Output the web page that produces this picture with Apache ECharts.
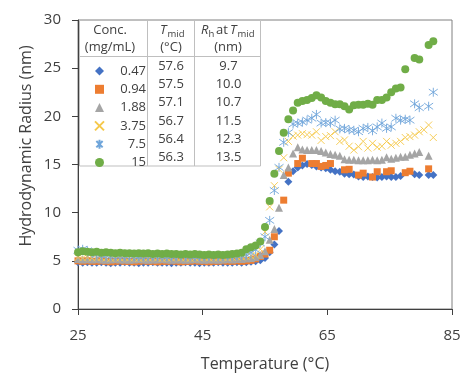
<!DOCTYPE html>
<html><head><meta charset="utf-8">
<script src="https://cdn.jsdelivr.net/npm/echarts@6/dist/echarts.min.js"></script>
<style>html,body{margin:0;padding:0;background:#fff}#c{width:475px;height:387px}</style>
</head><body><div id="c"></div>
<script>
const temps = [25,25.75,26.5,27.25,28,28.75,29.5,30.25,31,31.75,
32.5,33.25,34,34.75,35.5,36.25,37,37.75,38.5,39.25,
40,40.75,41.5,42.25,43,43.75,44.5,45.25,46,46.75,
47.5,48.25,49,49.75,50.5,51.25,52,52.75,53.5,54.25,
55,55.75,56.5,57.25,58,58.75,59.5,60.25,61,61.75,
62.5,63.25,64,64.75,65.5,66.25,67,67.75,68.5,69.25,
70,70.75,71.5,72.25,73,73.75,74.5,75.25,76,76.75,
77.5,78.25,79,79.75,80.5,81.25,82];

const conc = ['0.47','0.94','1.88','3.75','7.5','15'];
const tmid = ['57.6','57.5','57.1','56.7','56.4','56.3'];
const rhAtTmid = ['9.7','10.0','10.7','11.5','12.3','13.5'];
const xTicks = [25,45,65,85];
const yTicks = [0,5,10,15,20,25,30];

const r047 = [4.85,4.8,4.85,4.8,4.8,4.85,4.8,4.75,4.8,4.8,
4.85,4.8,4.8,4.75,4.8,4.8,4.85,4.8,4.8,4.8,
4.75,4.8,4.8,4.85,4.8,4.8,4.75,4.8,4.8,4.8,
4.85,4.8,4.8,4.8,4.85,4.8,4.85,4.9,4.95,5.05,
5.3,5.9,6.7,8.1,null,13.2,14.3,14.7,14.9,15.05,
14.95,14.8,14.7,14.6,14.45,14.3,14.25,14.05,14.0,13.95,
13.75,13.7,13.75,13.7,13.65,13.7,13.75,13.7,13.7,13.8,
null,null,14.0,13.9,null,13.9,13.9];

const r094 = [5.0,4.95,5.0,4.95,4.95,5.0,4.95,4.9,4.95,5.0,
4.95,4.95,4.9,4.95,5.0,4.95,4.95,4.9,4.95,4.95,
5.0,4.95,4.9,4.95,4.95,5.0,4.95,4.95,4.9,4.95,
4.95,5.0,4.95,4.95,5.0,4.95,5.0,5.05,5.2,5.45,
5.7,6.1,7.5,null,11.3,14.1,null,15.1,15.65,null,
15.1,15.1,14.8,14.9,15.1,null,null,14.45,14.5,null,
13.9,14.1,null,13.7,14.25,null,14.25,14.35,null,null,
14.15,14.3,null,null,null,14.55,null];

const r188 = [5.2,5.15,5.2,5.15,5.2,5.15,5.1,5.15,5.2,5.15,
5.15,5.1,5.15,5.2,5.15,5.1,5.15,5.15,5.2,5.15,
5.1,5.15,5.15,5.1,5.15,5.2,5.15,5.1,5.15,5.15,
5.1,5.15,5.2,5.15,5.2,5.2,5.25,5.3,5.4,5.6,
6.0,7.2,8.3,10.5,13.9,14.7,16.15,16.8,16.55,16.5,
16.5,16.5,16.4,16.25,16.1,16.0,15.9,15.55,15.5,15.5,
15.45,15.45,15.45,15.5,15.45,15.5,15.75,15.6,15.7,15.8,
15.8,16.0,16.15,16.3,null,15.9,null];

const r375 = [5.35,5.3,5.35,5.3,5.3,5.35,5.3,5.25,5.3,5.3,
5.35,5.3,5.3,5.25,5.3,5.3,5.35,5.3,5.25,5.3,
5.3,5.35,5.3,5.3,5.25,5.3,5.3,5.35,5.3,5.3,
5.3,5.35,5.3,5.35,5.4,5.4,5.45,5.5,5.6,6.2,
8.0,10.6,12.8,14.5,15.7,17.4,17.95,18.05,18.2,18.1,
18.05,18.4,17.5,17.9,18.0,18.4,17.4,17.55,16.9,16.5,
16.85,17.4,16.7,17.2,16.8,16.9,17.4,17.0,17.2,17.4,
17.8,17.9,18.05,18.4,18.6,19.1,17.8];

const r75 = [6.1,6.2,6.05,5.8,5.65,5.6,5.55,5.5,5.55,5.5,
5.5,5.55,5.5,5.45,5.5,5.5,5.55,5.5,5.5,5.45,
5.5,5.5,5.55,5.5,5.5,5.45,5.5,5.5,5.5,5.55,
5.5,5.5,5.55,5.5,5.55,5.6,5.65,5.85,6.15,6.85,
7.5,9.2,12.3,14.7,17.3,18.3,19.2,19.3,19.4,19.6,
19.8,20.2,19.3,19.35,19.3,19.6,18.7,18.75,18.6,18.55,
18.4,18.75,18.85,18.5,18.9,19.3,18.75,18.9,19.8,19.6,
19.7,19.6,21.3,20.9,null,21.05,22.5];

const r15 = [5.9,6.0,5.95,5.9,5.95,5.85,5.9,5.85,5.8,5.85,
5.8,5.8,5.75,5.8,5.75,5.8,5.7,5.75,5.7,5.75,
5.7,5.7,5.65,5.7,5.65,5.7,5.65,5.6,5.65,5.6,
5.65,5.6,5.65,5.7,5.75,5.85,6.2,6.4,6.6,7.0,
8.5,11.2,14.05,16.4,18.3,19.7,20.6,21.4,21.6,21.7,
21.9,22.2,21.95,21.6,21.4,21.25,21.25,21.05,20.7,21.15,
21.2,21.2,21.3,21.2,21.7,21.7,21.95,22.5,22.9,23.0,
24.9,null,26.05,25.9,null,27.4,27.8];

const seriesValues = [r047, r094, r188, r375, r75, r15];

const FONT = 'Open Sans';
const TXT = '#404040';
const XPATH = 'path://M0,0L10,10M10,0L0,10';
const STARPATH = 'path://M1.5,1.5L8.5,8.5M8.5,1.5L1.5,8.5M5,0L5,10';
const markerStyles = [
  {symbol:'diamond', symbolSize:8, itemStyle:{color:'#4472C4', opacity:1}},
  {symbol:'rect', symbolSize:7, itemStyle:{color:'#ED7D31', opacity:1}},
  {symbol:'triangle', symbolSize:8, itemStyle:{color:'#A5A5A5', opacity:1}},
  {symbol:XPATH, symbolSize:7, itemStyle:{color:'rgba(0,0,0,0)', borderColor:'#F5C84A', borderWidth:0.9, opacity:1}},
  {symbol:STARPATH, symbolSize:9, itemStyle:{color:'rgba(0,0,0,0)', borderColor:'#6FA5DA', borderWidth:0.9, opacity:1}},
  {symbol:'circle', symbolSize:8, itemStyle:{color:'#70AD47', opacity:1}}
];

function pts(arr){
  const out = [];
  arr.forEach((v,i)=>{ if(v!==null) out.push([temps[i], v]); });
  return out;
}

const series = seriesValues.map((vals,k)=>Object.assign({
  type:'scatter', name:conc[k], data:pts(vals), z:2+k*0.01,
  emphasis:{disabled:true}, animation:false
}, markerStyles[k]));

// table graphics
const rowY = [66, 84.3, 102.6, 120.9, 139.2, 157.5];
const g = [];
g.push({type:'rect', z:10, shape:{x:79.5, y:20.5, width:181, height:145.5},
  style:{fill:'#fff', stroke:'#BFBFBF', lineWidth:1}});
g.push({type:'line', z:11, shape:{x1:147.5,y1:20.5,x2:147.5,y2:166}, style:{stroke:'#BFBFBF', lineWidth:1}});
g.push({type:'line', z:11, shape:{x1:194.5,y1:20.5,x2:194.5,y2:166}, style:{stroke:'#BFBFBF', lineWidth:1}});
g.push({type:'line', z:11, shape:{x1:79.5,y1:56.5,x2:260.5,y2:56.5}, style:{stroke:'#BFBFBF', lineWidth:1}});
function t(x,y,text,opt){
  g.push({type:'text', z:12, x:x, y:y, style:Object.assign({text:text, font:'13px "'+FONT+'"', fill:TXT,
    textAlign:'center', textVerticalAlign:'middle'}, opt||{})});
}
t(110,30.5,'Conc.');
t(110,47.5,'(mg/mL)');
t(160,30.5,'T',{textAlign:'left', font:'italic 13px "'+FONT+'"'});
t(167.5,34,'mid',{textAlign:'left', font:'9.5px "'+FONT+'"'});
t(171,47.5,'(°C)');
t(201,30.5,'R',{textAlign:'left', font:'italic 13px "'+FONT+'"'});
t(208.5,34,'h',{textAlign:'left', font:'9.5px "'+FONT+'"'});
t(216,30.5,'at',{textAlign:'left'});
t(230,30.5,'T',{textAlign:'left', font:'italic 13px "'+FONT+'"'});
t(237.5,34,'mid',{textAlign:'left', font:'9.5px "'+FONT+'"'});
t(228,47.5,'(nm)');
rowY.forEach((y,k)=>{ t(171,y,tmid[k]); t(228.5,y,rhAtTmid[k]); });
// axis title y
g.push({type:'text', z:12, x:26, y:146, rotation:Math.PI/2,
  style:{text:'Hydrodynamic Radius (nm)', font:'16px "'+FONT+'"', fill:TXT, textAlign:'center', textVerticalAlign:'middle'}});

const chart = echarts.init(document.getElementById('c'), null, {renderer:'canvas'});
chart.setOption({
  animation:false,
  backgroundColor:'#fff',
  textStyle:{fontFamily:FONT},
  grid:{left:78, top:20, right:23, bottom:78, show:true, borderColor:'#808080', borderWidth:1},
  xAxis:{type:'value', min:25, max:85,
    axisLine:{show:true, lineStyle:{color:'#404040', width:1}},
    axisTick:{show:true, customValues:xTicks, length:6, lineStyle:{color:'#404040'}},
    axisLabel:{customValues:xTicks, margin:19, fontSize:15, color:TXT, fontFamily:FONT},
    splitLine:{show:false},
    name:'Temperature (°C)', nameLocation:'middle', nameGap:47,
    nameTextStyle:{fontSize:16, color:TXT, fontFamily:FONT}
  },
  yAxis:{type:'value', min:0, max:30, interval:5,
    axisLine:{show:true, lineStyle:{color:'#404040', width:1}},
    axisTick:{show:true, length:6, lineStyle:{color:'#404040'}},
    axisLabel:{margin:17, fontSize:15, color:TXT, fontFamily:FONT},
    splitLine:{show:false}
  },
  legend:{orient:'vertical', left:89, top:59, z:20, itemWidth:9, itemHeight:9, itemGap:4.3,
    selectedMode:false, data:conc,
    formatter:(n)=>'{v|'+n+'}',
    textStyle:{fontSize:13, color:TXT, fontFamily:FONT, lineHeight:14,
      rich:{v:{width:37, align:'right', fontSize:13, lineHeight:14, color:TXT, fontFamily:FONT}}}
  },
  graphic:{elements:g},
  series:series
});
</script></body></html>
